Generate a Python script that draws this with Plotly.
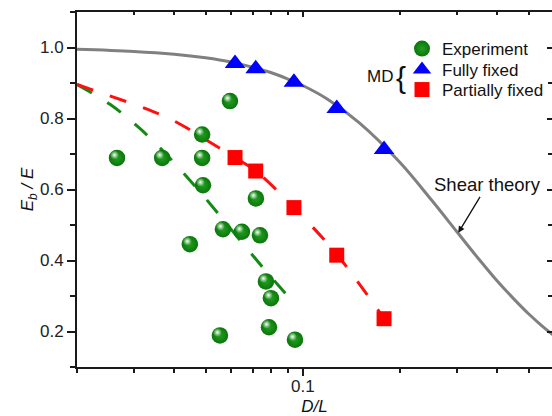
import numpy as np
import plotly.graph_objects as go

# ---------------- data ----------------
exp_x = [0.0266, 0.0367, 0.0488, 0.0488, 0.0595, 0.0491, 0.0716, 0.0566,
         0.0648, 0.0737, 0.0447, 0.0769, 0.0797, 0.0554, 0.0786, 0.0946]
exp_y = [0.689, 0.689, 0.689, 0.755, 0.849, 0.612, 0.575, 0.488,
         0.481, 0.471, 0.446, 0.341, 0.294, 0.189, 0.212, 0.177]

md_x = [0.0617, 0.0715, 0.0939, 0.1274, 0.1785]
full_y = [0.955, 0.940, 0.902, 0.828, 0.713]
part_y = [0.690, 0.652, 0.549, 0.415, 0.236]

shear_x = [0.02, 0.03, 0.04, 0.05, 0.06, 0.07, 0.08, 0.09, 0.1, 0.12, 0.15,
           0.2, 0.25, 0.3, 0.35, 0.4, 0.45, 0.5, 0.55, 0.6]
shear_y = [0.995, 0.989, 0.981, 0.971, 0.959, 0.944, 0.929, 0.911, 0.893,
           0.853, 0.787, 0.676, 0.571, 0.481, 0.405, 0.342, 0.292, 0.250,
           0.216, 0.188]

red_fit_x = [0.02, 0.0241, 0.0313, 0.0402, 0.0516, 0.0617, 0.0715, 0.0939, 0.128, 0.1785]
red_fit_y = [0.896, 0.870, 0.834, 0.792, 0.733, 0.690, 0.652, 0.549, 0.415, 0.236]

green_fit_x = [0.02, 0.0253, 0.0313, 0.0388, 0.0481, 0.0595, 0.0737, 0.0960]
green_fit_y = [0.896, 0.840, 0.772, 0.688, 0.593, 0.492, 0.390, 0.270]

x_ticks = [0.1]
x_ticktext = ["0.1"]
x_minor = [0.02, 0.03, 0.04, 0.05, 0.06, 0.07, 0.08, 0.09, 0.2, 0.3, 0.4, 0.5]
y_ticks = [0.2, 0.4, 0.6, 0.8, 1.0]
y_ticktext = ["0.2", "0.4", "0.6", "0.8", "1.0"]

X_RANGE = [0.02, 0.591]
Y_RANGE = [0.1, 1.1]
pointer = (0.303, 0.478)  # where the "Shear theory" arrow touches the curve

# ---------------- figure ----------------
W, H = 552, 416
ML, MR, MT, MB = 77, 0, 12, 49
FONT = "Arial, 'Liberation Sans', Helvetica, sans-serif"
AX = "#1a1a1a"
pw = W - ML - MR
ph = H - MT - MB

fig = go.Figure()

fig.add_trace(go.Scatter(x=shear_x, y=shear_y, mode="lines", line_shape="spline",
                         line=dict(color="#808080", width=3), showlegend=False,
                         hoverinfo="skip"))
fig.add_trace(go.Scatter(x=green_fit_x, y=green_fit_y, mode="lines", line_shape="spline",
                         line=dict(color="#138a13", width=3, dash="17px,18px"),
                         showlegend=False, hoverinfo="skip"))
fig.add_trace(go.Scatter(x=red_fit_x, y=red_fit_y, mode="lines", line_shape="spline",
                         line=dict(color="#ff1010", width=3, dash="17px,18px"),
                         showlegend=False, hoverinfo="skip"))

fig.add_trace(go.Scatter(x=exp_x, y=exp_y, mode="markers", name="Experiment",
                         legend="legend",
                         marker=dict(symbol="circle", size=16.5, color="#0a760a",
                                     gradient=dict(type="radial", color="#239f23"),
                                     line=dict(width=0))))
# specular highlight on the spheres (small offset up-left, in pixel units)
dec_per_px = (np.log10(X_RANGE[1]) - np.log10(X_RANGE[0])) / pw
y_per_px = (Y_RANGE[1] - Y_RANGE[0]) / ph
hl_x = [v * 10 ** (-2.5 * dec_per_px) for v in exp_x]
hl_y = [v + 3 * y_per_px for v in exp_y]
fig.add_trace(go.Scatter(x=hl_x, y=hl_y, mode="markers", showlegend=False, hoverinfo="skip",
                         marker=dict(symbol="circle", size=9, color="rgba(220,255,220,0)",
                                     gradient=dict(type="radial", color="rgba(255,255,255,1)"),
                                     line=dict(width=0))))

fig.add_trace(go.Scatter(x=md_x, y=full_y, mode="markers", name="Fully fixed",
                         legend="legend2",
                         marker=dict(symbol="triangle-up", size=18, color="#0000ff",
                                     line=dict(width=0))))
fig.add_trace(go.Scatter(x=md_x, y=part_y, mode="markers", name="Partially fixed",
                         legend="legend3",
                         marker=dict(symbol="square", size=15, color="#ff0000",
                                     line=dict(width=0))))

# dummy trace for the mirrored (top/right) axes
fig.add_trace(go.Scatter(x=[None], y=[None], xaxis="x2", yaxis="y2", showlegend=False,
                         hoverinfo="skip"))

tickfont = dict(family=FONT, size=17, color="#222")


def legend_at(top_px):
    return dict(x=(402 - ML) / pw, y=(H - MB - top_px) / ph, xanchor="left",
                yanchor="top", bgcolor="rgba(0,0,0,0)", borderwidth=0,
                font=dict(family=FONT, size=17, color="#111"), itemsizing="trace")


fig.update_layout(
    width=W, height=H,
    margin=dict(l=ML, r=MR, t=MT, b=MB, pad=0, autoexpand=False),
    paper_bgcolor="white", plot_bgcolor="white",
    font=dict(family=FONT, size=17, color="#111"),
    xaxis=dict(type="log", range=[np.log10(X_RANGE[0]), np.log10(X_RANGE[1])],
               tickmode="array", tickvals=x_ticks, ticktext=x_ticktext,
               ticks="outside", ticklen=7, tickwidth=1.6, tickcolor=AX,
               ticklabelstandoff=-4, automargin=False,
               minor=dict(tickmode="array", tickvals=x_minor, ticks="outside",
                          ticklen=4, tickwidth=1.6, tickcolor=AX),
               showline=True, linecolor=AX, linewidth=2, showgrid=False, zeroline=False,
               tickfont=tickfont,
               title=dict(text="<i>D/L</i>", font=dict(family=FONT, size=17, color="#111"),
                          standoff=9)),
    yaxis=dict(range=Y_RANGE, tickmode="array", tickvals=y_ticks, ticktext=y_ticktext,
               ticks="outside", ticklen=8, tickwidth=1.6, tickcolor=AX, automargin=False,
               minor=dict(tick0=0.1, dtick=0.1, ticks="outside", ticklen=5,
                          tickwidth=1.6, tickcolor=AX),
               showline=True, linecolor=AX, linewidth=2, showgrid=False, zeroline=False,
               tickfont=tickfont,
               title=dict(text="<i>E</i><sub><i>b</i></sub><i> / E</i>",
                          font=dict(family=FONT, size=17, color="#111"), standoff=2)),
    xaxis2=dict(type="log", overlaying="x", side="top", anchor="y2", automargin=False,
                range=[np.log10(X_RANGE[0]), np.log10(X_RANGE[1])],
                tickmode="array", tickvals=x_ticks, showticklabels=False,
                ticks="inside", ticklen=5, tickwidth=1.6, tickcolor=AX,
                minor=dict(tickmode="array", tickvals=x_minor, ticks="inside",
                           ticklen=3, tickwidth=1.6, tickcolor=AX),
                showline=True, linecolor=AX, linewidth=2, showgrid=False, zeroline=False),
    yaxis2=dict(overlaying="y", side="right", anchor="x2", range=Y_RANGE, automargin=False,
                tickmode="array", tickvals=y_ticks, showticklabels=False,
                ticks="inside", ticklen=5, tickwidth=1.6, tickcolor=AX,
                minor=dict(tick0=0.1, dtick=0.1, ticks="inside", ticklen=4,
                           tickwidth=1.6, tickcolor=AX),
                showline=False, showgrid=False, zeroline=False),
    legend=legend_at(31),
    legend2=legend_at(52),
    legend3=legend_at(72),
    showlegend=True,
)

fig.add_annotation(xref="paper", yref="paper", x=(380 - ML) / pw, y=(H - MB - 76) / ph,
                   text="MD", showarrow=False, xanchor="center", yanchor="middle",
                   font=dict(family=FONT, size=17, color="#111"))
fig.add_annotation(xref="paper", yref="paper", x=(401 - ML) / pw, y=(H - MB - 78) / ph,
                   text="{", showarrow=False, xanchor="center", yanchor="middle",
                   font=dict(family=FONT, size=30, color="#111"))

fig.add_annotation(x=np.log10(pointer[0]), y=pointer[1], xref="x", yref="y",
                   text="Shear theory", showarrow=True, arrowhead=2, arrowsize=1,
                   arrowwidth=1.3, arrowcolor="#111", ax=29, ay=-48,
                   font=dict(family=FONT, size=18.5, color="#111"))

fig.write_html("out.html")
